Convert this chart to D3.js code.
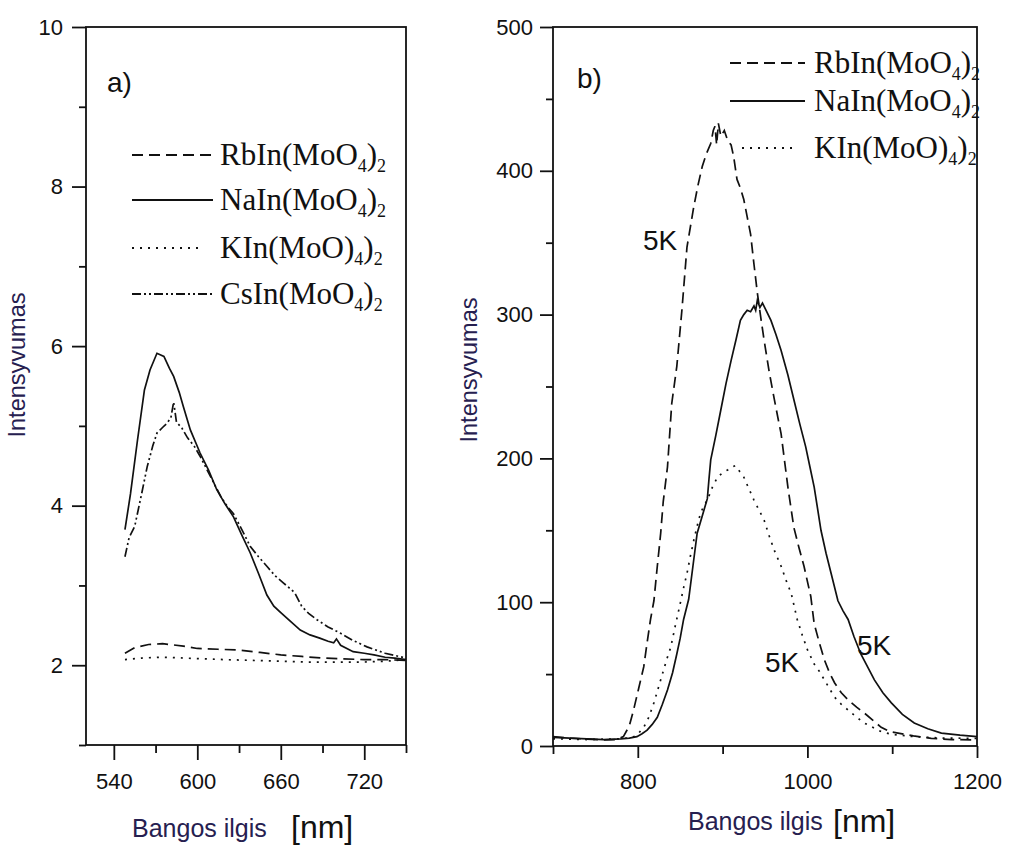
<!DOCTYPE html>
<html>
<head>
<meta charset="utf-8">
<script src="https://cdn.jsdelivr.net/npm/d3@7"></script>
<style>
  body { margin: 0; background: #fff; }
  svg { display: block; }
  .tick text { font-family: "Liberation Sans", Arial, sans-serif; font-size: 22px; fill: #111; }
  .tick line { stroke: #111; stroke-width: 1.8; }
  .leg { font-family: "Liberation Serif", "Times New Roman", serif; font-size: 31px; fill: #111; }
  .albl { font-family: "Liberation Sans", Arial, sans-serif; font-size: 25px; fill: #262050; }
  .ylbl { font-family: "Liberation Sans", Arial, sans-serif; font-size: 23.5px; fill: #262050; }
  .unit { font-family: "Liberation Sans", Arial, sans-serif; font-size: 32px; fill: #111; }
  .tag { font-family: "Liberation Sans", Arial, sans-serif; font-size: 28px; fill: #111; }
</style>
</head>
<body>
<script>
// ---- data: panel a) (room temperature), wavelength nm / intensity
var aNa = [[548,3.70],[552,4.15],[557,4.82],[562,5.45],[566,5.70],[571,5.91],[576,5.87],[580,5.72],[583,5.62],[587,5.42],[590,5.24],[595,4.95],[602,4.66],[608,4.45],[614,4.20],[620,4.02],[626,3.86],[632,3.63],[638,3.41],[644,3.15],[650,2.88],[655,2.74],[660,2.66],[667,2.55],[674,2.44],[681,2.38],[688,2.34],[694,2.30],[698,2.28],[700,2.33],[703,2.25],[712,2.17],[720,2.15],[727,2.13],[735,2.10],[742,2.09],[750,2.07]];
var aCs = [[548,3.36],[551,3.60],[555,3.74],[560,4.15],[564,4.49],[568,4.75],[571,4.91],[575,4.98],[578,5.03],[581,5.10],[583,5.30],[585,5.05],[589,4.97],[593,4.85],[598,4.74],[602,4.62],[607,4.45],[612,4.28],[617,4.11],[622,3.98],[626,3.90],[632,3.70],[638,3.49],[644,3.36],[650,3.24],[656,3.12],[662,3.03],[670,2.91],[675,2.74],[680,2.65],[686,2.57],[694,2.48],[703,2.40],[712,2.31],[722,2.23],[735,2.15],[750,2.09]];
var aRb = [[548,2.15],[555,2.22],[565,2.26],[575,2.27],[590,2.24],[600,2.21],[615,2.20],[630,2.19],[645,2.16],[660,2.13],[675,2.11],[690,2.09],[705,2.08],[720,2.07],[735,2.07],[750,2.06]];
var aK = [[548,2.07],[560,2.09],[575,2.10],[590,2.09],[605,2.08],[620,2.07],[640,2.06],[660,2.05],[680,2.04],[700,2.04],[720,2.04],[735,2.05],[750,2.07]];

// ---- data: panel b) (5K)
var bRb = [[700,6.5],[720,5.5],[740,4.8],[760,4.2],[775,4.5],[783,6.5],[790,14],[795,25],[801,40],[807,55],[811,72],[815,88],[819,101],[823,125],[827,148],[830,170],[835,194],[840,238],[846,264],[852,303],[858,347],[866,375],[871,390],[876,403],[881,412],[886,419],[889,428],[891,431],[893,418],[895,433],[898,424],[902,428],[906,421],[910,418],[913,410],[917,394],[921,388],[925,380],[929,368],[933,356],[937,335],[941,315],[945,298],[949,282],[955,260],[961,241],[969,217],[977,180],[984,152],[990,138],[996,125],[1004,104],[1008,85],[1014,72],[1020,60],[1026,51],[1032,44],[1040,37],[1048,32],[1058,27],[1067,23],[1077,18],[1087,13],[1097,10],[1107,9],[1125,7],[1146,5.3],[1170,4.5],[1200,4.2]];
var bNa = [[700,6],[720,5.5],[740,5],[760,4.5],[780,5],[790,5.5],[799,6.5],[805,8.5],[811,11],[817,15],[823,20],[829,29],[835,39],[841,51],[846,64],[850,75],[854,88],[860,102],[865,125],[870,148],[876,160],[882,172],[884,186],[886,199],[892,216],[898,234],[904,252],[910,268],[916,283],[921,296],[925,300],[929,303],[933,302],[937,306],[939,303],[941,310],[944,305],[947,308],[952,302],[957,296],[963,286],[969,275],[977,258],[984,241],[991,224],[998,208],[1003,194],[1008,180],[1012,165],[1016,150],[1022,134],[1028,120],[1036,101],[1042,94],[1048,88],[1055,76],[1063,64],[1071,55],[1079,46],[1089,37],[1099,30],[1112,22],[1126,16],[1142,12],[1158,9],[1180,7.5],[1200,6.5]];
var bK = [[700,5],[740,4.5],[780,5],[793,6],[799,7.5],[807,13],[813,20],[819,30],[824,40],[829,50],[834,60],[839,69],[844,83],[850,99],[854,110],[858,120],[862,132],[866,143],[870,153],[874,162],[878,167],[882,171],[888,180],[894,187],[900,190],[906,192],[911,194],[915,195],[920,191],[925,187],[931,179],[937,171],[943,164],[949,157],[955,146],[961,136],[969,125],[975,115],[981,106],[988,88],[994,77],[1000,67],[1008,57],[1014,52],[1020,46],[1026,40],[1032,34],[1040,29],[1048,25],[1058,20],[1067,16],[1077,13],[1087,10],[1100,8],[1126,6.5],[1160,5.5],[1200,5.3]];

// ticks
var aXMajor = [540, 600, 660, 720], aXMinor = [570, 630, 690, 750];
var aYMajor = [2, 4, 6, 8, 10], aYMinor = [1, 3, 5, 7, 9];
var bXMajor = [800, 1000, 1200], bXMinor = [700, 900, 1100];
var bYMajor = [0, 100, 200, 300, 400, 500], bYMinor = [50, 150, 250, 350, 450];

// legend entries: [formula head, sub1, mid, sub2, dash]
var DASH = "11,6", DOT = "2,6", DASHDOT = "9,3,2,3,2,3";
var aLegend = [["RbIn(MoO", "4", ")", "2", DASH], ["NaIn(MoO", "4", ")", "2", null], ["KIn(MoO)", "4", ")", "2", DOT], ["CsIn(MoO", "4", ")", "2", DASHDOT]];
var bLegend = [["RbIn(MoO", "4", ")", "2", DASH], ["NaIn(MoO", "4", ")", "2", null], ["KIn(MoO)", "4", ")", "2", DOT]];

var svg = d3.select("body").append("svg").attr("width", 1034).attr("height", 846);

function panel(o) {
    var x = d3.scaleLinear().domain(o.xd).range([o.l, o.r]);
    var y = d3.scaleLinear().domain(o.yd).range([o.b, o.t]);
    var g = svg.append("g");

    // curves
    var line = d3.line().x(function(d) { return x(d[0]); }).y(function(d) { return y(d[1]); });
    o.series.forEach(function(s) {
        g.append("path").datum(s[0]).attr("d", line)
            .attr("fill", "none").attr("stroke", "#111").attr("stroke-width", 1.7)
            .attr("stroke-dasharray", s[1]);
    });

    // axes (major + minor)
    function ax(a, tr) {
        var n = g.append("g").attr("transform", tr).call(a);
        n.select(".domain").remove();
        return n;
    }
    ax(d3.axisBottom(x).tickValues(o.xMaj).tickSize(o.xTick).tickPadding(o.xPad).tickFormat(d3.format("d")), "translate(0," + o.b + ")");
    ax(d3.axisBottom(x).tickValues(o.xMin).tickSize(8).tickFormat(""), "translate(0," + o.b + ")");
    ax(d3.axisLeft(y).tickValues(o.yMaj).tickSize(o.yTick).tickPadding(o.yPad).tickFormat(d3.format("d")), "translate(" + o.l + ",0)");
    ax(d3.axisLeft(y).tickValues(o.yMin).tickSize(7).tickFormat(""), "translate(" + o.l + ",0)");

    // frame
    g.append("rect").attr("x", o.l).attr("y", o.t).attr("width", o.r - o.l).attr("height", o.b - o.t)
        .attr("fill", "none").attr("stroke", "#111").attr("stroke-width", 1.8);

    // legend
    o.legend.forEach(function(e, i) {
        var ly = o.legY[i];
        g.append("line").attr("x1", o.legX1[i]).attr("x2", o.legX2[i]).attr("y1", ly).attr("y2", ly)
            .attr("stroke", "#111").attr("stroke-width", 1.8).attr("stroke-dasharray", e[4]);
        var t = g.append("text").attr("class", "leg").attr("x", o.legTx).attr("y", ly + 10);
        t.append("tspan").text(e[0]);
        t.append("tspan").attr("font-size", 18).attr("dy", 7).text(e[1]);
        t.append("tspan").attr("dy", -7).text(e[2]);
        t.append("tspan").attr("font-size", 18).attr("dy", 7).text(e[3]);
    });

    g.append("text").attr("class", "tag").attr("x", o.tag[0]).attr("y", o.tag[1]).text(o.tag[2]);

    // axis titles
    g.append("text").attr("class", "albl").attr("x", o.xl[0]).attr("y", o.xl[1]).text("Bangos ilgis");
    g.append("text").attr("class", "unit").attr("x", o.xl[2]).attr("y", o.xl[3]).text("[nm]");
    g.append("text").attr("class", "ylbl").attr("text-anchor", "middle")
        .attr("transform", "translate(" + o.yl[0] + "," + o.yl[1] + ") rotate(-90)").text("Intensyvumas");
    return g;
}

panel({
    xd: [520, 750], yd: [1, 10], l: 86, r: 406, t: 27, b: 745,
    series: [[aRb, DASH], [aK, DOT], [aCs, DASHDOT], [aNa, null]],
    xMaj: aXMajor, xMin: aXMinor, yMaj: aYMajor, yMin: aYMinor,
    xTick: 15, xPad: 13, yTick: 14, yPad: 9,
    legend: aLegend, legY: [155, 200, 248, 294], legX1: [132, 132, 132, 132], legX2: [212, 213, 200, 212], legTx: 220,
    tag: [107, 92, "a)"],
    xl: [132, 837, 291, 838], yl: [25, 365]
});

var gb = panel({
    xd: [700, 1200], yd: [0, 500], l: 553, r: 977, t: 27, b: 746,
    series: [[bRb, DASH], [bK, DOT], [bNa, null]],
    xMaj: bXMajor, xMin: bXMinor, yMaj: bYMajor, yMin: bYMinor,
    xTick: 12, xPad: 15, yTick: 13, yPad: 7,
    legend: bLegend, legY: [63, 101, 148], legX1: [730, 730, 742], legX2: [805, 805, 797], legTx: 814,
    tag: [577, 88, "b)"],
    xl: [688, 830, 833, 832], yl: [477, 370]
});

// temperature marks
[[643, 250], [765, 672], [857, 655]].forEach(function(p) {
    gb.append("text").attr("class", "tag").attr("x", p[0]).attr("y", p[1]).text("5K");
});
</script>
</body>
</html>
